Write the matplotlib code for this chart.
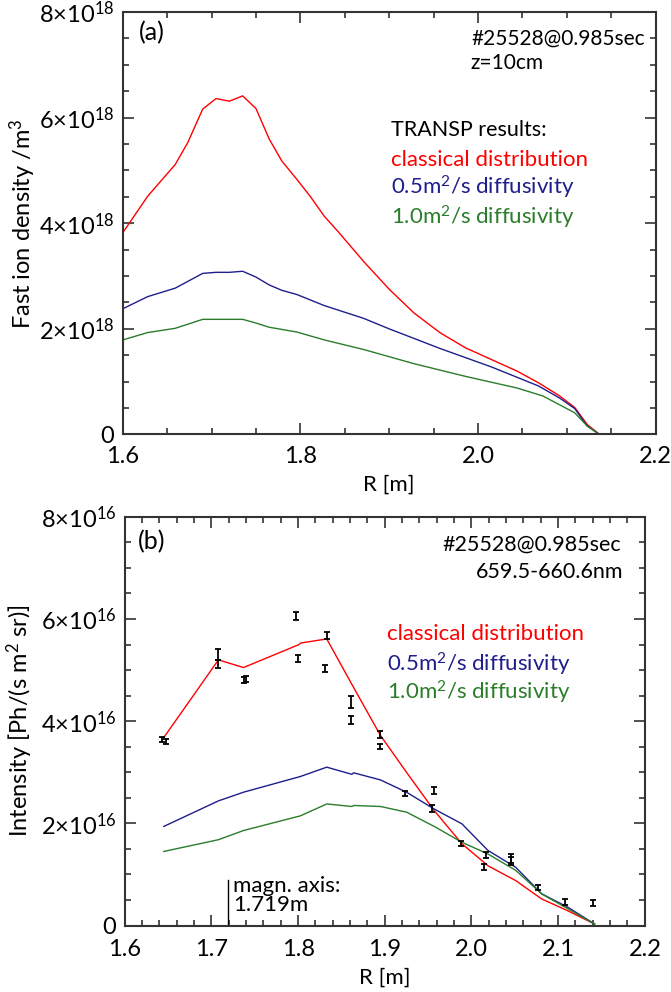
import matplotlib
matplotlib.use('Agg')
import matplotlib.pyplot as plt
from matplotlib.ticker import MultipleLocator, FuncFormatter

FONT = ['Lato', 'DejaVu Sans']
plt.rcParams['font.family'] = FONT
plt.rcParams['mathtext.fontset'] = 'custom'
plt.rcParams['mathtext.rm'] = 'Lato'
plt.rcParams['mathtext.it'] = 'Lato'

RED = '#ff0000'
BLUE = '#1e1e8c'
GREEN = '#2a7d2a'

# --- panel (a): TRANSP fast ion density (units 1e18 /m^3) ---
r_a_red = [1.600, 1.628, 1.659, 1.673, 1.690, 1.705, 1.720, 1.735, 1.750, 1.765,
           1.779, 1.796, 1.811, 1.827, 1.842, 1.871, 1.900, 1.928, 1.957, 1.986,
           2.015, 2.044, 2.068, 2.092, 2.109, 2.123, 2.137, 2.200]
n_a_red = [3.82, 4.51, 5.11, 5.52, 6.16, 6.36, 6.31, 6.41, 6.17, 5.59,
           5.18, 4.83, 4.51, 4.13, 3.85, 3.28, 2.75, 2.30, 1.93, 1.64,
           1.42, 1.20, 0.98, 0.73, 0.51, 0.19, 0.0, 0.0]
r_a_blue = [1.600, 1.628, 1.659, 1.690, 1.705, 1.720, 1.735, 1.750, 1.765, 1.779,
            1.796, 1.827, 1.871, 1.900, 1.957, 2.015, 2.068, 2.092, 2.109, 2.123,
            2.137, 2.200]
n_a_blue = [2.38, 2.61, 2.77, 3.05, 3.07, 3.07, 3.09, 2.98, 2.83, 2.73,
            2.65, 2.44, 2.20, 2.00, 1.63, 1.28, 0.92, 0.69, 0.49, 0.16,
            0.0, 0.0]
r_a_green = [1.600, 1.628, 1.659, 1.690, 1.735, 1.750, 1.765, 1.796, 1.827, 1.871,
             1.928, 1.986, 2.044, 2.073, 2.109, 2.123, 2.137, 2.200]
n_a_green = [1.79, 1.93, 2.01, 2.18, 2.18, 2.11, 2.03, 1.94, 1.79, 1.61,
             1.34, 1.10, 0.88, 0.73, 0.41, 0.16, 0.0, 0.0]

# --- panel (b): simulated intensity (units 1e16) ---
r_b = [1.645, 1.708, 1.737, 1.801, 1.803, 1.833, 1.862, 1.864, 1.895, 1.925,
       1.957, 1.989, 2.019, 2.051, 2.081, 2.111, 2.142]
i_b_red = [3.68, 5.20, 5.05, 5.50, 5.53, 5.61, 4.72, 4.66, 3.72, 3.00,
           2.25, 1.60, 1.17, 0.88, 0.52, 0.29, 0.03]
i_b_blue = [1.94, 2.44, 2.61, 2.91, 2.92, 3.10, 2.96, 2.99, 2.85, 2.61,
            2.28, 1.99, 1.47, 1.14, 0.62, 0.36, 0.03]
i_b_green = [1.45, 1.68, 1.86, 2.14, 2.15, 2.38, 2.33, 2.35, 2.33, 2.22,
             1.94, 1.63, 1.40, 1.08, 0.62, 0.33, 0.03]

# measured intensity with error bars (units 1e16)
r_meas = [1.643, 1.647, 1.708, 1.708, 1.737, 1.740, 1.798, 1.800, 1.833, 1.831,
          1.861, 1.861, 1.894, 1.895, 1.923, 1.957, 1.954, 1.988, 2.017, 2.015,
          2.046, 2.046, 2.077, 2.108, 2.140]
i_meas = [3.65, 3.60, 5.30, 5.12, 4.80, 4.82, 6.06, 5.23, 5.68, 5.03,
          4.37, 4.02, 3.74, 3.51, 2.59, 2.64, 2.29, 1.60, 1.38, 1.15,
          1.32, 1.26, 0.75, 0.46, 0.44]
e_meas = [0.05, 0.05, 0.11, 0.08, 0.06, 0.06, 0.07, 0.07, 0.07, 0.07,
          0.12, 0.08, 0.07, 0.05, 0.05, 0.07, 0.06, 0.05, 0.06, 0.06,
          0.09, 0.08, 0.05, 0.06, 0.06]

magn_axis = 1.719


def sci_fmt(exp):
    def f(v, pos):
        if abs(v) < 1e-9:
            return '0'
        return '%d\u00d710$^{%d}$' % (round(v), exp)
    return FuncFormatter(f)


def style_axes(ax, xminor, yexp, xpad):
    ax.yaxis.set_major_locator(MultipleLocator(2))
    ax.yaxis.set_minor_locator(MultipleLocator(0.5))
    ax.xaxis.set_minor_locator(MultipleLocator(xminor))
    ax.yaxis.set_major_formatter(sci_fmt(yexp))
    ax.tick_params(which='both', direction='in', top=True, right=True,
                   labelsize=17, color='#333333', width=1.2)
    ax.tick_params(which='major', length=8, pad=6)
    ax.tick_params(which='minor', length=4)
    ax.tick_params(axis='x', which='major', pad=xpad)
    for sp in ax.spines.values():
        sp.set_linewidth(1.5)
        sp.set_color('#333333')


fig = plt.figure(figsize=(6.71, 9.92), dpi=100)
ax1 = fig.add_axes([0.183, 0.562, 0.794, 0.426])
ax2 = fig.add_axes([0.186, 0.067, 0.775, 0.412])

# panel (a)
ax1.plot(r_a_red, n_a_red, color=RED, lw=1.0)
ax1.plot(r_a_blue, n_a_blue, color=BLUE, lw=1.0)
ax1.plot(r_a_green, n_a_green, color=GREEN, lw=1.0)
ax1.set_xlim(1.6, 2.2)
ax1.set_ylim(0, 8)
ax1.xaxis.set_major_locator(MultipleLocator(0.2))
ax1.xaxis.set_major_formatter(FuncFormatter(lambda v, p: '%.1f' % v))
style_axes(ax1, 0.05, 18, 8)
ax1.set_xlabel('R [m]', fontsize=16, labelpad=6)
ax1.set_ylabel('Fast ion density /m$^3$', fontsize=17)
ax1.yaxis.set_label_coords(-0.16, 0.5)

ax1.text(0.03, 0.95, '(a)', transform=ax1.transAxes, fontsize=18, va='center')
ax1.text(0.981, 0.937, '#25528@0.985sec', transform=ax1.transAxes, fontsize=15,
         ha='right', va='center')
ax1.text(0.652, 0.88, 'z=10cm', transform=ax1.transAxes, fontsize=15, va='center')
ax1.text(0.503, 0.72, 'TRANSP results:', transform=ax1.transAxes, fontsize=15.5, va='center')
ax1.text(0.503, 0.65, 'classical distribution', transform=ax1.transAxes, fontsize=16,
         va='center', color=RED)
ax1.text(0.503, 0.584, '0.5m$^2$/s diffusivity', transform=ax1.transAxes, fontsize=16,
         va='center', color=BLUE)
ax1.text(0.503, 0.513, '1.0m$^2$/s diffusivity', transform=ax1.transAxes, fontsize=16,
         va='center', color=GREEN)

# panel (b)
ax2.plot(r_b, i_b_red, color=RED, lw=1.0)
ax2.plot(r_b, i_b_blue, color=BLUE, lw=1.0)
ax2.plot(r_b, i_b_green, color=GREEN, lw=1.0)
ax2.errorbar(r_meas, i_meas, yerr=e_meas, fmt='none', ecolor='black',
             elinewidth=1.3, capsize=2.2, capthick=1.3)
ax2.plot([magn_axis, magn_axis], [0, 0.9], color='black', lw=1.0)
ax2.text(magn_axis + 0.006, 0.97, 'magn. axis:\n1.719m', fontsize=16,
         va='top', ha='left', linespacing=0.95)
ax2.set_xlim(1.6, 2.2)
ax2.set_ylim(0, 8)
ax2.xaxis.set_major_locator(MultipleLocator(0.1))
ax2.xaxis.set_major_formatter(FuncFormatter(lambda v, p: '%.1f' % v))
style_axes(ax2, 0.02, 16, 10)
ax2.set_xlabel('R [m]', fontsize=16, labelpad=5)
ax2.set_ylabel('Intensity [Ph/(s m$^2$ sr)]', fontsize=17)
ax2.yaxis.set_label_coords(-0.172, 0.5)

ax2.text(0.025, 0.94, '(b)', transform=ax2.transAxes, fontsize=18, va='center')
ax2.text(0.955, 0.933, '#25528@0.985sec', transform=ax2.transAxes, fontsize=15.5,
         ha='right', va='center')
ax2.text(0.959, 0.864, '659.5-660.6nm', transform=ax2.transAxes, fontsize=15.5,
         ha='right', va='center')
ax2.text(0.504, 0.713, 'classical distribution', transform=ax2.transAxes, fontsize=16,
         va='center', color=RED)
ax2.text(0.504, 0.64, '0.5m$^2$/s diffusivity', transform=ax2.transAxes, fontsize=16,
         va='center', color=BLUE)
ax2.text(0.504, 0.57, '1.0m$^2$/s diffusivity', transform=ax2.transAxes, fontsize=16,
         va='center', color=GREEN)

# lift the "0" labels a little off the x tick labels, as in the original
fig.canvas.draw()
for ax in (ax1, ax2):
    ax.yaxis.get_major_ticks()[0].label1.set_va('bottom')

fig.savefig('out.png', dpi=100)
